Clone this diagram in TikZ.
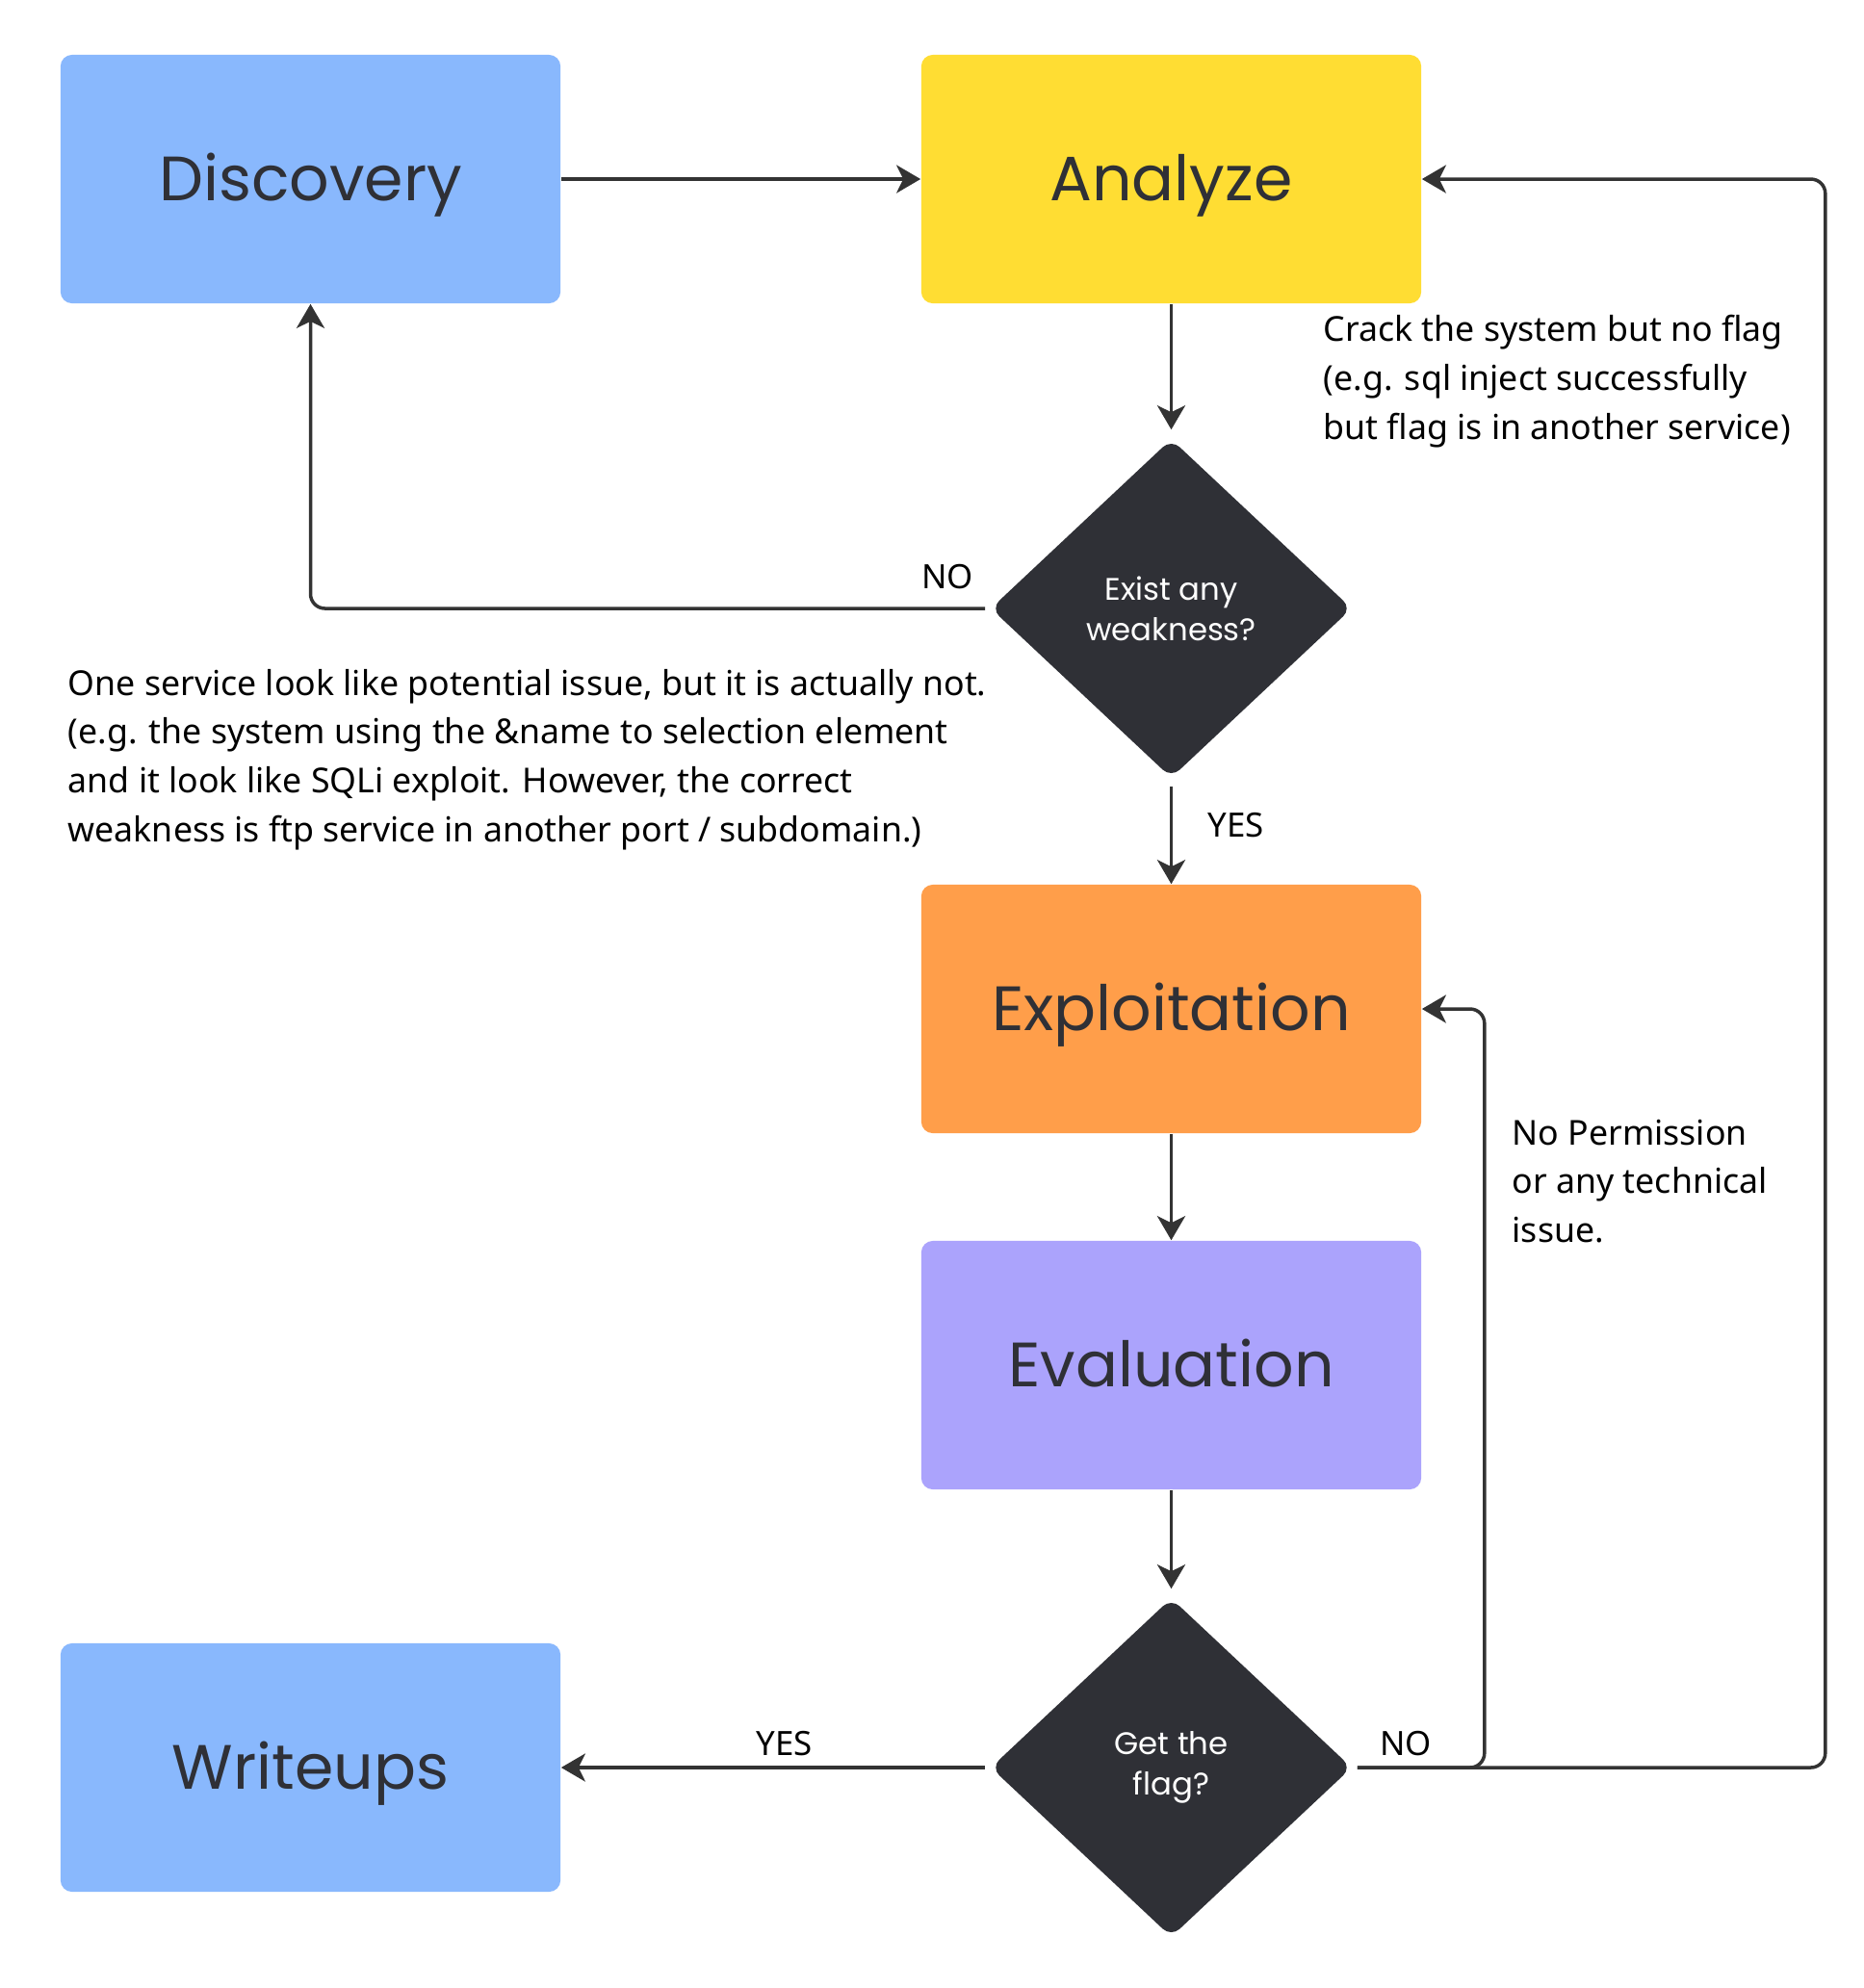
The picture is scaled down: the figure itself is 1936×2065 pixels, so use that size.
\documentclass[tikz,border=0pt]{standalone}
\usepackage{fontspec}
\setmainfont{Noto Sans}
\newfontfamily\boxfont{Poppins}
\usetikzlibrary{shapes.geometric,arrows.meta}
\definecolor{cblue}{HTML}{89B8FD}
\definecolor{cyellow}{HTML}{FFDD33}
\definecolor{corange}{HTML}{FF9E4A}
\definecolor{cpurple}{HTML}{ABA3FC}
\definecolor{cdark}{HTML}{2F3036}
\definecolor{cline}{HTML}{333333}
\begin{document}
\begin{tikzpicture}[x=0.01cm,y=-0.01cm,
 stepbox/.style={rectangle, rounded corners=0.12cm, minimum width=5.19cm, minimum height=2.58cm, inner sep=0pt, text height=13pt, text depth=0pt, font=\boxfont\fontsize{18.5}{23}\selectfont, text=cdark},
 decision/.style={diamond, fill=cdark, minimum width=3.75cm, minimum height=3.52cm, inner sep=0pt, rounded corners=0.12cm, text=white, font=\boxfont\fontsize{9.2}{12}\selectfont, align=center},
 conn/.style={draw=cline, line width=0.035cm, -{Stealth[length=0.25cm,width=0.29cm,inset=0.07cm]}, rounded corners=0.15cm},
 note/.style={anchor=west, align=left, font=\fontsize{10.15}{14.4}\selectfont, text=black, inner sep=0pt},
 lbl/.style={font=\fontsize{9.9}{12}\selectfont, inner sep=0pt, text=black}
]
\useasboundingbox (0,0) rectangle (1936,2065);
\fill[white] (0,0) rectangle (1936,2065);

\node[stepbox, fill=cblue] (disc) at (322.5,186) {Discovery};
\node[stepbox, fill=cyellow] (ana) at (1216.5,186) {Analyze};
\node[decision] (d1) at (1216.5,632) {Exist any\\weakness?};
\node[stepbox, fill=corange] (expl) at (1216.5,1048) {Exploitation};
\node[stepbox, fill=cpurple] (eval) at (1216.5,1418) {Evaluation};
\node[decision] (d2) at (1216.5,1836) {Get the\\flag?};
\node[stepbox, fill=cblue] (wri) at (322.5,1836) {Writeups};

\node[note] (n1) at (1374,396) {Crack the system but no flag\\(e.g. sql inject successfully\\but flag is in another service)};
\node[note] (n2) at (70,789) {One service look like potential issue, but it is actually not.\\(e.g. the system using the \&name to selection element\\and it look like SQLi exploit. However, the correct\\weakness is ftp service in another port / subdomain.)};
\node[note] (n3) at (1570,1227) {No Permission\\or any technical\\issue.};

\node[lbl] (l1) at (984,599) {NO};
\node[lbl] (l2) at (1284,857) {YES};
\node[lbl] (l3) at (815,1811) {YES};
\node[lbl] (l4) at (1460,1811) {NO};

\draw[conn] (disc.east) -- (ana.west);
\draw[conn, shorten >=0.09cm] (ana.south) -- (d1.north);
\draw[conn, shorten <=0.05cm] (d1.west) -| (disc.south);
\draw[conn, shorten <=0.08cm] (d1.south) -- (expl.north);
\draw[conn] (expl.south) -- (eval.north);
\draw[conn, shorten >=0.09cm] (eval.south) -- (d2.north);
\draw[conn, shorten <=0.05cm] (d2.west) -- (wri.east);
\draw[conn, shorten <=0.05cm] (d2.east) -- ++(137,0) |- (expl.east);
\draw[conn, shorten <=0.05cm] (d2.east) -- ++(491,0) |- (ana.east);
\end{tikzpicture}
\end{document}
